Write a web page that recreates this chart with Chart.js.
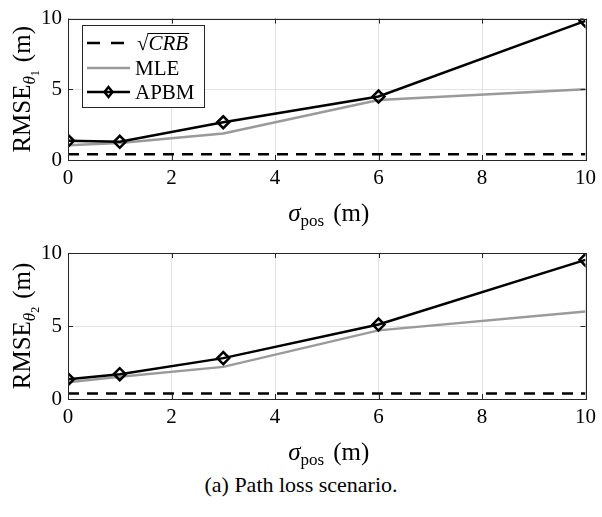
<!DOCTYPE html>
<html>
<head>
<meta charset="utf-8">
<script src="https://cdn.jsdelivr.net/npm/chart.js@4.4.1/dist/chart.umd.min.js"></script>
<style>
  html, body { margin:0; padding:0; background:#fff; }
  #wrap { position:relative; width:602px; height:517px; overflow:hidden; background:#fff; }
  canvas { position:absolute; left:0; }
  #cap { position:absolute; left:0; width:602px; top:472px; text-align:center;
         font-family:"Liberation Serif", serif; font-size:22px; color:#000; }
  #pre { position:absolute; left:-1000px; top:0; font-family:"Liberation Serif"; }
</style>
</head>
<body>
<div id="wrap">
  <canvas id="c1" width="602" height="230" style="top:0px"></canvas>
  <canvas id="c2" width="602" height="240" style="top:230px"></canvas>
  <div id="cap">(a) Path loss scenario.</div>
</div>
<div id="pre">0123 <i>σθ</i> RMSE</div>
<script>
// ---- data ----
const sigmaPos = [0, 1, 3, 6, 10];
const crbTheta1  = [0.40, 0.40, 0.40, 0.40, 0.40];
const mleTheta1  = [1.05, 1.20, 1.88, 4.24, 5.00];
const apbmTheta1 = [1.36, 1.29, 2.67, 4.49, 9.84];
const crbTheta2  = [0.38, 0.38, 0.38, 0.38, 0.38];
const mleTheta2  = [1.15, 1.52, 2.20, 4.70, 6.00];
const apbmTheta2 = [1.36, 1.70, 2.80, 5.10, 9.53];
const xTicks = [0, 2, 4, 6, 8, 10];
const yTicks = [0, 5, 10];
const legendLabels = ['CRB', 'MLE', 'APBM'];

const SERIF = '"Liberation Serif", serif';
const DASH = [11, 8];

function pts(xs, ys) { return xs.map((x, i) => ({ x: x, y: ys[i] })); }

function drawSeq(ctx, parts, x0, y0) {
  let x = x0;
  for (const p of parts) {
    ctx.font = p.f;
    ctx.fillText(p.t, x, y0 + (p.dy || 0));
    x += ctx.measureText(p.t).width + (p.gap || 0);
  }
}
function seqWidth(ctx, parts) {
  let w = 0;
  for (const p of parts) { ctx.font = p.f; w += ctx.measureText(p.t).width + (p.gap || 0); }
  return w;
}

const decor = {
  id: 'decor',
  afterDraw(chart, args, o) {
    const ctx = chart.ctx;
    const a = chart.chartArea;
    const xs = chart.scales.x, ys = chart.scales.y;
    ctx.save();
    ctx.strokeStyle = '#262626';
    ctx.lineWidth = 1;
    ctx.beginPath();
    for (const t of xTicks) {
      const px = Math.round(xs.getPixelForValue(t)) + 0.5;
      ctx.moveTo(px, a.bottom); ctx.lineTo(px, a.bottom - 5);
      ctx.moveTo(px, a.top); ctx.lineTo(px, a.top + 5);
    }
    for (const t of yTicks) {
      const py = Math.round(ys.getPixelForValue(t)) + 0.5;
      ctx.moveTo(a.left, py); ctx.lineTo(a.left + 5, py);
      ctx.moveTo(a.right, py); ctx.lineTo(a.right - 5, py);
    }
    ctx.stroke();
    ctx.strokeRect(Math.round(a.left) + 0.5, Math.round(a.top) + 0.5,
                   Math.round(a.right - a.left), Math.round(a.bottom - a.top));

    ctx.fillStyle = '#000';
    ctx.textBaseline = 'alphabetic';
    const yParts = [
      { t: 'RMSE', f: '25px ' + SERIF },
      { t: 'θ', f: 'italic 17px ' + SERIF, dy: 5 },
      { t: o.sub, f: '12px ' + SERIF, dy: 9, gap: 8 },
      { t: '(m)', f: '25px ' + SERIF }
    ];
    const cy = (a.top + a.bottom) / 2;
    ctx.save();
    ctx.translate(30, cy);
    ctx.rotate(-Math.PI / 2);
    drawSeq(ctx, yParts, -seqWidth(ctx, yParts) / 2, 0);
    ctx.restore();

    const xParts = [
      { t: 'σ', f: 'italic 25px ' + SERIF },
      { t: 'pos', f: '17px ' + SERIF, dy: 5, gap: 9 },
      { t: '(m)', f: '25px ' + SERIF }
    ];
    const cx = (a.left + a.right) / 2 + 2;
    drawSeq(ctx, xParts, cx - seqWidth(ctx, xParts) / 2, a.bottom + o.xTitleOff);

    if (o.legend) {
      const L = 82, T = 25, R = 204, B = 107;
      ctx.fillStyle = '#fff';
      ctx.fillRect(L, T, R - L, B - T);
      ctx.strokeStyle = '#262626';
      ctx.lineWidth = 1;
      ctx.strokeRect(L + 0.5, T + 0.5, R - L, B - T);
      const rows = [43, 68, 92];
      const x1 = 87, x2 = 130, tx = 135;
      ctx.lineWidth = 2.5;
      ctx.strokeStyle = '#000';
      ctx.setLineDash([13, 11]);
      ctx.beginPath(); ctx.moveTo(x1, rows[0]); ctx.lineTo(x2, rows[0]); ctx.stroke();
      ctx.setLineDash([]);
      ctx.strokeStyle = '#9a9a9a';
      ctx.beginPath(); ctx.moveTo(x1, rows[1]); ctx.lineTo(x2, rows[1]); ctx.stroke();
      ctx.strokeStyle = '#000';
      ctx.beginPath(); ctx.moveTo(x1, rows[2]); ctx.lineTo(x2, rows[2]); ctx.stroke();
      const mx = (x1 + x2) / 2, r = 5;
      ctx.beginPath();
      ctx.moveTo(mx, rows[2] - r); ctx.lineTo(mx + r * 0.8, rows[2]);
      ctx.lineTo(mx, rows[2] + r); ctx.lineTo(mx - r * 0.8, rows[2]); ctx.closePath();
      ctx.stroke();
      ctx.fillStyle = '#000';
      ctx.textBaseline = 'middle';
      ctx.font = '21px ' + SERIF;
      ctx.fillText('√', tx + 2, rows[0] + 1);
      const sw = ctx.measureText('√').width;
      ctx.font = 'italic 21px ' + SERIF;
      const crbW = ctx.measureText(legendLabels[0]).width;
      ctx.fillText(legendLabels[0], tx + 2 + sw, rows[0] + 1);
      ctx.lineWidth = 1;
      ctx.beginPath();
      ctx.moveTo(tx + 2 + sw - 1, rows[0] - 9.5);
      ctx.lineTo(tx + 2 + sw + crbW + 1, rows[0] - 9.5);
      ctx.stroke();
      ctx.font = '21px ' + SERIF;
      ctx.fillText(legendLabels[1], tx, rows[1] + 1);
      ctx.fillText(legendLabels[2], tx, rows[2] + 1);
    }
    ctx.restore();
  }
};

function makeChart(id, crb, mle, apbm, sub, padTop, xH, legend, xTitleOff) {
  return new Chart(document.getElementById(id), {
    type: 'line',
    data: {
      datasets: [
        { label: legendLabels[0], data: pts(sigmaPos, crb), borderColor: '#000', borderWidth: 2.5,
          borderDash: DASH, pointRadius: 0, order: 3, tension: 0 },
        { label: legendLabels[1], data: pts(sigmaPos, mle), borderColor: '#9a9a9a', borderWidth: 2.5,
          pointRadius: 0, order: 2, tension: 0 },
        { label: legendLabels[2], data: pts(sigmaPos, apbm), borderColor: '#000', borderWidth: 2.5,
          pointStyle: 'rectRot', pointRadius: 6, pointBorderWidth: 2.5, pointBackgroundColor: 'rgba(0,0,0,0)',
          pointBorderColor: '#000', order: 1, tension: 0 }
      ]
    },
    options: {
      responsive: false,
      animation: false,
      events: [],
      layout: { padding: { top: padTop, right: 15, left: 0, bottom: 0 } },
      plugins: { legend: { display: false }, tooltip: { enabled: false },
                 decor: { sub: sub, legend: legend, xTitleOff: xTitleOff } },
      scales: {
        x: {
          type: 'linear', min: 0, max: 10,
          afterBuildTicks: s => { s.ticks = xTicks.map(v => ({ value: v })); },
          afterFit: s => { s.height = xH; },
          grid: { color: '#e3e3e3', lineWidth: 1, drawTicks: false },
          border: { display: false },
          ticks: { color: '#000', font: { family: SERIF, size: 21 }, padding: 6, maxRotation: 0 }
        },
        y: {
          type: 'linear', min: 0, max: 10,
          afterBuildTicks: s => { s.ticks = yTicks.map(v => ({ value: v })); },
          afterFit: s => { s.width = 68; },
          grid: { color: '#e3e3e3', lineWidth: 1, drawTicks: false },
          border: { display: false },
          ticks: { color: '#000', font: { family: SERIF, size: 21 }, padding: 6 }
        }
      }
    },
    plugins: [decor]
  });
}

function build() {
  makeChart('c1', crbTheta1, mleTheta1, apbmTheta1, '1', 13, 70, true, 61);
  makeChart('c2', crbTheta2, mleTheta2, apbmTheta2, '2', 23, 71, false, 61);
}
const fontLoads = [
  '21px "Liberation Serif"', 'italic 21px "Liberation Serif"'
].map(f => document.fonts.load(f, '0123 σθRMSE'));
Promise.all(fontLoads).then(build, build);
</script>
</body>
</html>
